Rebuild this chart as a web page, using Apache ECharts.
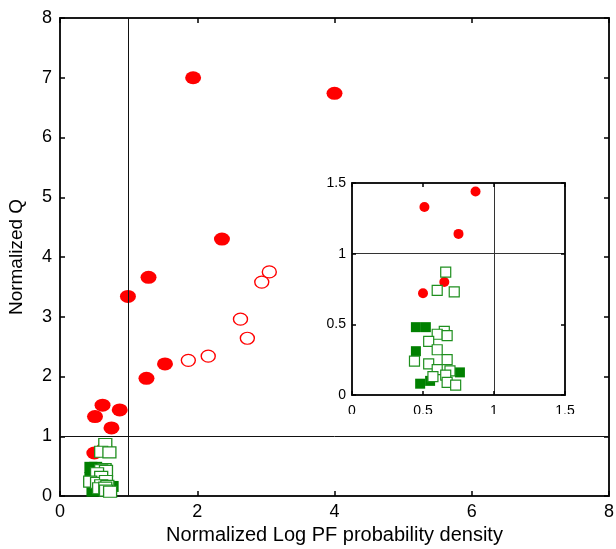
<!DOCTYPE html>
<html>
<head>
<meta charset="utf-8">
<script src="https://cdn.jsdelivr.net/npm/echarts@6/dist/echarts.min.js"></script>
<style>
html,body{margin:0;padding:0;background:#fff;}
#chart{width:616px;height:549px;}
</style>
</head>
<body>
<div id="chart"></div>
<script>
// ---- data ----
var redFilledX = [1.94, 4.00, 2.36, 1.29, 0.99, 1.53, 1.26, 0.62, 0.51, 0.87, 0.75, 0.50, 0.65];
var redFilledY = [7.00, 6.74, 4.30, 3.66, 3.34, 2.21, 1.97, 1.52, 1.33, 1.44, 1.14, 0.72, 0.80];
var redHollowX = [1.87, 2.16, 2.63, 2.73, 2.94, 3.05];
var redHollowY = [2.27, 2.34, 2.96, 2.64, 3.58, 3.75];
var greenFilledX = [0.45, 0.52, 0.45, 0.48, 0.55, 0.76];
var greenFilledY = [0.48, 0.48, 0.31, 0.08, 0.10, 0.16];
var greenHollowX = [0.66, 0.60, 0.72, 0.65, 0.60, 0.67, 0.54, 0.60, 0.44, 0.54, 0.67, 0.60, 0.69, 0.57, 0.66, 0.67, 0.73];
var greenHollowY = [0.87, 0.74, 0.73, 0.45, 0.43, 0.42, 0.38, 0.32, 0.24, 0.22, 0.25, 0.18, 0.17, 0.13, 0.14, 0.09, 0.07];
var mainTicks = ['0','2','4','6','8'];
var insetTicks = ['0','0.5','1','1.5'];
var refValue = 1;

function pairs(xs, ys){ return xs.map(function(x,i){ return [x, ys[i]]; }); }

var FONT = 'Liberation Sans, Arial, sans-serif';
var chart = echarts.init(document.getElementById('chart'), null, {renderer:'canvas'});

function axisBase(extra){
  var base = {
    type:'value',
    axisLine:{show:true, onZero:false, lineStyle:{color:'#1a1a1a', width:2}},
    axisTick:{show:true, inside:true, length:5, lineStyle:{color:'#000', width:1.5}},
    splitLine:{show:false},
    axisLabel:{show:false}
  };
  for (var k in extra) base[k] = extra[k];
  return base;
}

function scatter(name, xi, yi, data, symbolSize, style, z){
  return {
    name:name, type:'scatter', xAxisIndex:xi, yAxisIndex:yi,
    data:data, symbol: style.symbol, symbolSize:symbolSize,
    itemStyle: style.item, clip:true, silent:true, z:z, animation:false
  };
}

var sRedFilled = {symbol:'circle', item:{color:'#ff0000', opacity:1}};
var sRedHollow = {symbol:'circle', item:{color:'#ffffff', borderColor:'#ff0000', borderWidth:1.3, opacity:1}};
var sGreenFilled = {symbol:'rect', item:{color:'#008000', opacity:1}};
var sGreenHollow = {symbol:'rect', item:{color:'#ffffff', borderColor:'#1f8f1f', borderWidth:1.2, opacity:1}};

function refLines(color){
  return {
    silent:true, symbol:['none','none'], animation:false,
    label:{show:false},
    lineStyle:{color:color, width:1, type:'solid'},
    data:[{xAxis:refValue},{yAxis:refValue}]
  };
}

var option = {
  backgroundColor:'#ffffff',
  animation:false,
  grid:[
    {left:60, right:7, top:18, bottom:53, containLabel:false, outerBoundsMode:'none'},
    {left:352, top:183, width:213, height:212, show:true, backgroundColor:'#ffffff', borderWidth:0, z:5, containLabel:false, outerBoundsMode:'none'}
  ],
  xAxis:[
    axisBase({gridIndex:0, position:'bottom', min:0, max:8, interval:2,
      axisLabel:{show:true, fontSize:18, color:'#000', fontFamily:FONT, margin:7,
        formatter:function(v){ return mainTicks[Math.round(v/2)]; }},
      name:'Normalized Log PF probability density', nameLocation:'middle', nameGap:25,
      nameTextStyle:{fontSize:20, color:'#000', fontFamily:FONT}}),
    axisBase({gridIndex:0, position:'top', min:0, max:8, interval:2}),
    axisBase({gridIndex:1, position:'bottom', min:0, max:1.5, interval:0.5, z:6,
      axisTick:{show:true, inside:true, length:4, lineStyle:{color:'#000', width:1.5}},
      axisLabel:{show:true, fontSize:14, color:'#000', fontFamily:FONT, margin:9,
        formatter:function(v){ return insetTicks[Math.round(v/0.5)]; }}}),
    axisBase({gridIndex:1, position:'top', min:0, max:1.5, interval:0.5, z:6,
      axisTick:{show:true, inside:true, length:4, lineStyle:{color:'#000', width:1.5}}})
  ],
  yAxis:[
    axisBase({gridIndex:0, position:'left', min:0, max:8, interval:1,
      axisLabel:{show:true, fontSize:18, color:'#000', fontFamily:FONT, margin:8},
      name:'Normalized Q', nameLocation:'middle', nameGap:34, nameRotate:90,
      nameTextStyle:{fontSize:19, color:'#000', fontFamily:FONT}}),
    axisBase({gridIndex:0, position:'right', min:0, max:8, interval:1}),
    axisBase({gridIndex:1, position:'left', min:0, max:1.5, interval:0.5, z:6,
      axisTick:{show:true, inside:true, length:4, lineStyle:{color:'#000', width:1.5}},
      axisLabel:{show:true, fontSize:14, color:'#000', fontFamily:FONT, margin:6,
        formatter:function(v){ return insetTicks[Math.round(v/0.5)]; }}}),
    axisBase({gridIndex:1, position:'right', min:0, max:1.5, interval:0.5, z:6,
      axisTick:{show:true, inside:true, length:4, lineStyle:{color:'#000', width:1.5}}})
  ],
  series:[
    (function(){ var s = scatter('redFilled', 0, 0, pairs(redFilledX, redFilledY), [16,13], sRedFilled, 2); s.markLine = refLines('#111'); return s; })(),
    scatter('redHollow', 0, 0, pairs(redHollowX, redHollowY), [14,12], sRedHollow, 2),
    scatter('greenFilled', 0, 0, pairs(greenFilledX, greenFilledY), [13,11], sGreenFilled, 2),
    scatter('greenHollow', 0, 0, pairs(greenHollowX, greenHollowY), [13,11], sGreenHollow, 2),
    (function(){ var s = scatter('redFilledInset', 2, 2, pairs(redFilledX, redFilledY), [10,10], sRedFilled, 7); s.markLine = refLines('#333'); return s; })(),
    scatter('redHollowInset', 2, 2, pairs(redHollowX, redHollowY), [10,10], sRedHollow, 7),
    scatter('greenFilledInset', 2, 2, pairs(greenFilledX, greenFilledY), [10,10], sGreenFilled, 7),
    scatter('greenHollowInset', 2, 2, pairs(greenHollowX, greenHollowY), [10,10], sGreenHollow, 7)
  ],
  graphic:[
    {type:'rect', left:330, top:414, shape:{width:260, height:14}, style:{fill:'#ffffff'}, z:100, silent:true}
  ]
};
chart.setOption(option);
</script>
</body>
</html>
